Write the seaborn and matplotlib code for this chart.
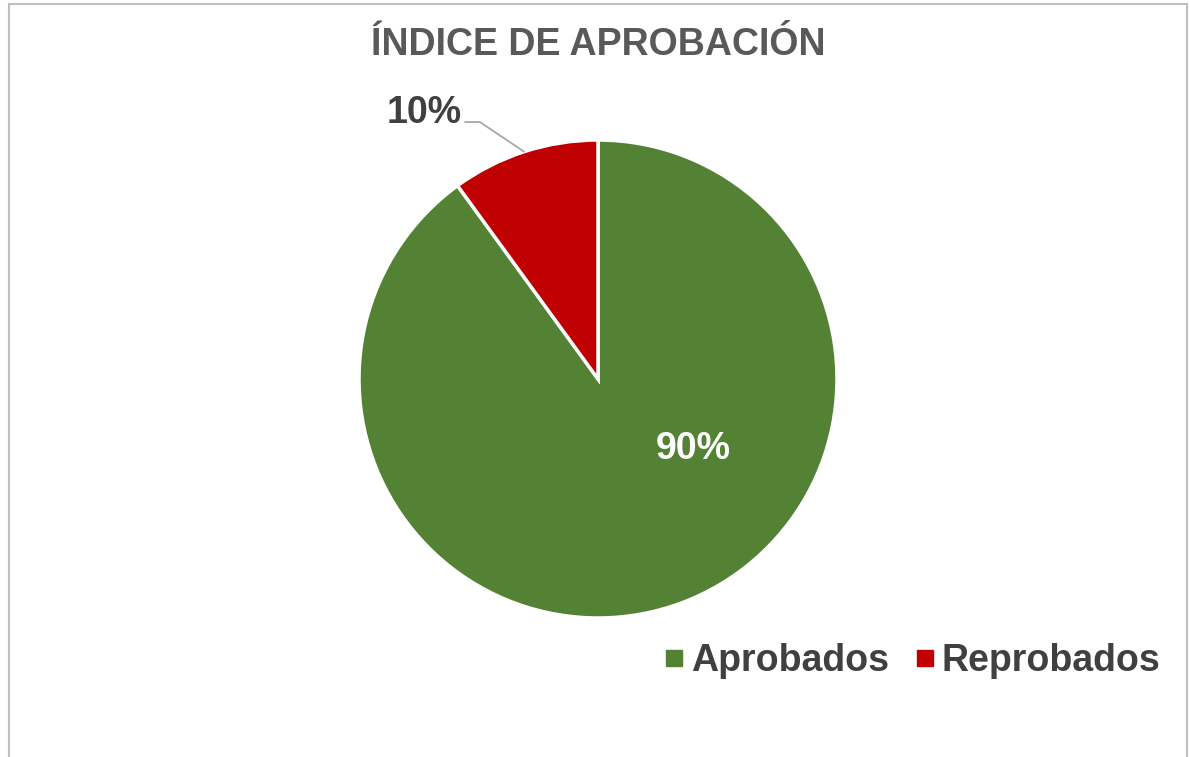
import numpy as np
import matplotlib.pyplot as plt
import seaborn as sns
from matplotlib.lines import Line2D
from matplotlib.patches import Rectangle

# data
categories = ['Aprobados', 'Reprobados']
values = [90, 10]
pct_labels = ['90%', '10%']
colors = ['#548235', '#C00000']
title = 'ÍNDICE DE APROBACIÓN'

sns.set_theme(style='white')
plt.rcParams['font.family'] = ['Liberation Sans', 'DejaVu Sans']

W, H = 1190, 757
fig = plt.figure(figsize=(W / 100, H / 100), dpi=100)
fig.patch.set_facecolor('white')

# pie centre (598, 379) px, radius 239 px
cx, cy, r = 598, 379, 239
ax = fig.add_axes([(cx - r) / W, (H - cy - r) / H, 2 * r / W, 2 * r / H])
wedges, _ = ax.pie(values, colors=colors, startangle=90, counterclock=False,
                   wedgeprops=dict(edgecolor='white', linewidth=2.5))
ax.set_xlim(-1, 1)
ax.set_ylim(-1, 1)
ax.axis('off')

fs = 27

# 90% label inside the big slice
ax.text(0.40, -0.335, pct_labels[0], ha='center', va='baseline',
        fontsize=fs, fontweight='bold', color='white')

# 10% label outside with leader line
mid = np.deg2rad(90 + 360 * values[1] / sum(values) / 2)
ax.plot([-0.556, -0.494, np.cos(mid)], [1.075, 1.075, np.sin(mid)],
        color='#a6a6a6', lw=1.3, clip_on=False)
ax.text(-0.727, 1.071, pct_labels[1], ha='center', va='baseline',
        fontsize=fs, fontweight='bold', color='#404040', clip_on=False)

# title
fig.text(cx / W, 1 - 55 / H, title, ha='center', va='baseline',
         fontsize=fs, fontweight='bold', color='#595959')

# legend
handles = [Line2D([], [], marker='s', linestyle='none', markersize=11,
                  markerfacecolor=c, markeredgecolor=c) for c in colors]
leg = fig.legend(handles, categories, loc='center', ncol=2, frameon=False,
                 bbox_to_anchor=(913 / W, 1 - 661 / H), fontsize=fs,
                 handlelength=0.45, handletextpad=0.22, columnspacing=0.75)
for t in leg.get_texts():
    t.set_fontweight('bold')
    t.set_color('#404040')

# chart border
fig.patches.append(Rectangle((9 / W, -0.05), 1178 / W, 1.05 - 4 / H,
                             transform=fig.transFigure, fill=False,
                             edgecolor='#bfbfbf', linewidth=1.5))

fig.savefig('out.png', dpi=100, facecolor='white')
